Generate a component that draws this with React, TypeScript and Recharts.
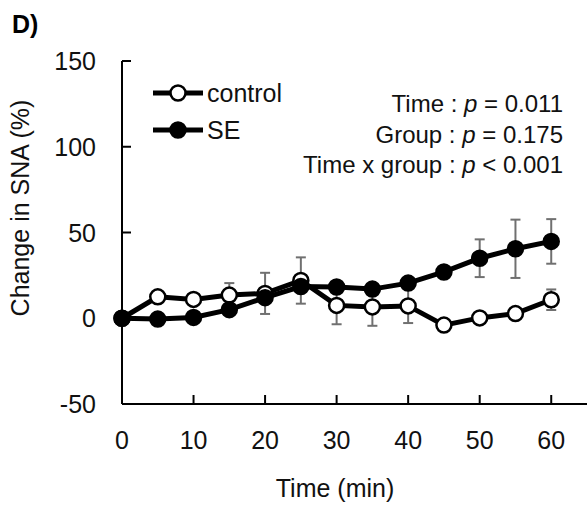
import React from 'react';
import { LineChart, Line, XAxis, YAxis, ErrorBar } from 'recharts';

const times = [0, 5, 10, 15, 20, 25, 30, 35, 40, 45, 50, 55, 60];
const controlValues = [0, 12.5, 11, 13.5, 14.5, 22, 7.5, 6.6, 7.2, -4, 0.2, 2.7, 10.8];
const controlErrors = [0, 0, 0, 7, 12, 13.5, 11, 11, 10, 0, 0, 0, 6];
const seValues = [0, -0.5, 0.5, 5, 12, 18.5, 18.2, 17, 20.5, 27, 35, 40.5, 44.8];
const seErrors = [0, 0, 0, 0, 0, 0, 0, 0, 0, 0, 11, 17, 13];
const xTicks = [0, 10, 20, 30, 40, 50, 60];
const yTicks = [-50, 0, 50, 100, 150];

const data = times.map((t, i) => ({
  t,
  control: controlValues[i],
  controlErr: controlErrors[i],
  se: seValues[i],
  seErr: seErrors[i],
}));

const FONT = '"Liberation Sans", Arial, sans-serif';

const XTick = (props: any) => {
  const { x, y, payload } = props;
  return (
    <g>
      {payload.value !== 0 && <line x1={x} y1={y} x2={x} y2={y - 9} stroke="#000" strokeWidth={2} />}
      <text x={x} y={y + 45} textAnchor="middle" fontSize={25} fontFamily={FONT} fill="#111">
        {payload.value}
      </text>
    </g>
  );
};

const YTick = (props: any) => {
  const { x, y, payload } = props;
  return (
    <g>
      {payload.value !== -50 && <line x1={x} y1={y} x2={x + 9} y2={y} stroke="#000" strokeWidth={2} />}
      <text x={x - 26} y={y + 9} textAnchor="end" fontSize={25} fontFamily={FONT} fill="#111">
        {payload.value}
      </text>
    </g>
  );
};

export default function App() {
  return (
    <div style={{ position: 'absolute', left: 0, top: 0, width: 587, height: 507, background: '#fff' }}>
      <LineChart width={587} height={507} data={data} margin={{ top: 61, right: 0, left: 0, bottom: 0 }}>
        <XAxis
          dataKey="t"
          type="number"
          domain={[0, 65]}
          ticks={xTicks}
          height={103}
          tickSize={0}
          tickMargin={0}
          tickLine={false}
          axisLine={{ stroke: '#000', strokeWidth: 2 }}
          tick={<XTick />}
          interval={0}
        />
        <YAxis
          type="number"
          domain={[-50, 150]}
          ticks={yTicks}
          width={122}
          tickSize={0}
          tickMargin={0}
          tickLine={false}
          axisLine={{ stroke: '#000', strokeWidth: 2 }}
          tick={<YTick />}
          interval={0}
        />
        <Line
          dataKey="control"
          stroke="#000"
          strokeWidth={5}
          isAnimationActive={false}
          dot={{ r: 7.5, fill: '#fff', stroke: '#000', strokeWidth: 2.5 }}
          activeDot={false}
        >
          <ErrorBar dataKey="controlErr" width={5} stroke="#707070" strokeWidth={2} direction="y" />
        </Line>
        <Line
          dataKey="se"
          stroke="#000"
          strokeWidth={5}
          isAnimationActive={false}
          dot={{ r: 7.5, fill: '#000', stroke: '#000', strokeWidth: 2.5 }}
          activeDot={false}
        >
          <ErrorBar dataKey="seErr" width={5} stroke="#707070" strokeWidth={2} direction="y" />
        </Line>
      </LineChart>
      <svg
        width={587}
        height={507}
        style={{ position: 'absolute', left: 0, top: 0, pointerEvents: 'none' }}
        fontFamily={FONT}
      >
        <text x={12} y={33} fontSize={25} fontWeight="bold" fill="#000">D)</text>
        <text
          x={29}
          y={208}
          transform="rotate(-90, 29, 208)"
          textAnchor="middle"
          fontSize={25}
          fill="#111"
        >
          Change in SNA (%)
        </text>
        <text x={335} y={497} textAnchor="middle" fontSize={25} fill="#111">Time (min)</text>
        <line x1={153} y1={93} x2={203} y2={93} stroke="#000" strokeWidth={5} />
        <circle cx={178} cy={93} r={7.5} fill="#fff" stroke="#000" strokeWidth={2.5} />
        <text x={207} y={102} fontSize={25} fill="#111">control</text>
        <line x1={153} y1={130} x2={203} y2={130} stroke="#000" strokeWidth={5} />
        <circle cx={178} cy={130} r={7.5} fill="#000" stroke="#000" strokeWidth={2.5} />
        <text x={207} y={139} fontSize={25} fill="#111">SE</text>
        <text x={563} y={112} textAnchor="end" fontSize={24} fill="#111">
          Time : <tspan fontStyle="italic">p</tspan> = 0.011
        </text>
        <text x={563} y={143} textAnchor="end" fontSize={24} fill="#111">
          Group : <tspan fontStyle="italic">p</tspan> = 0.175
        </text>
        <text x={563} y={173} textAnchor="end" fontSize={24} fill="#111">
          Time x group : <tspan fontStyle="italic">p</tspan> &lt; 0.001
        </text>
      </svg>
    </div>
  );
}
